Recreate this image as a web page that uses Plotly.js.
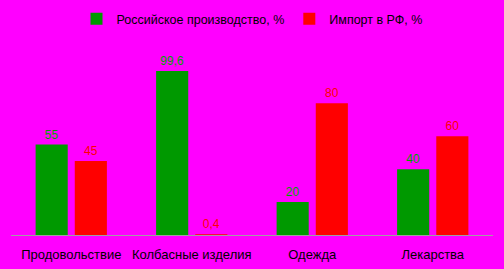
<!DOCTYPE html>
<html><head><meta charset="utf-8">
<script src="https://cdn.plot.ly/plotly-3.0.1.min.js"></script>
<style>html,body{margin:0;padding:0;background:#FF00FF;}</style>
</head><body>
<div id="chart" style="width:504px;height:269px;"></div>
<script>
const categories = ["Продовольствие", "Колбасные изделия", "Одежда", "Лекарства"];
const russianProduction = [55, 99.6, 20, 40];
const imports = [45, 0.4, 80, 60];
const seriesNames = ["Российское производство, %", "Импорт в РФ, %"];

const fmt = v => String(v).replace('.', ',');
const FONT = 'Liberation Sans, Arial, sans-serif';

const traces = [
  {
    type: 'bar', name: seriesNames[0], x: categories, y: russianProduction,
    marker: {color: '#009900'},
    text: russianProduction.map(fmt), textposition: 'outside', cliponaxis: false,
    textfont: {color: '#00A000', size: 12, family: FONT},
    hoverinfo: 'none'
  },
  {
    type: 'bar', name: seriesNames[1], x: categories, y: imports,
    marker: {color: '#FF0000'},
    text: imports.map(fmt), textposition: 'outside', cliponaxis: false,
    textfont: {color: '#FF0000', size: 12, family: FONT},
    hoverinfo: 'none'
  }
];

const layout = {
  width: 504, height: 269,
  paper_bgcolor: '#FF00FF', plot_bgcolor: '#FF00FF',
  margin: {l: 11, r: 11, t: 54, b: 34},
  bargap: 0.35, bargroupgap: 0.18,
  font: {family: FONT, size: 12, color: '#000000'},
  showlegend: true,
  legend: {orientation: 'h', x: 0.5, xanchor: 'center', y: 0.985, yref: 'container', yanchor: 'top',
           font: {size: 12.5, color: '#000000'}, bgcolor: 'rgba(0,0,0,0)', itemwidth: 30,
           tracegroupgap: 0},
  xaxis: {showline: true, linecolor: '#A0A0A0', linewidth: 1, ticks: '', showgrid: false,
          tickfont: {size: 13, color: '#000000'}, ticklabelstandoff: 7, fixedrange: true},
  yaxis: {range: [0, 110], visible: false, showgrid: false, zeroline: false, fixedrange: true}
};

Plotly.newPlot('chart', traces, layout, {displayModeBar: false, staticPlot: true});
</script>
</body></html>
